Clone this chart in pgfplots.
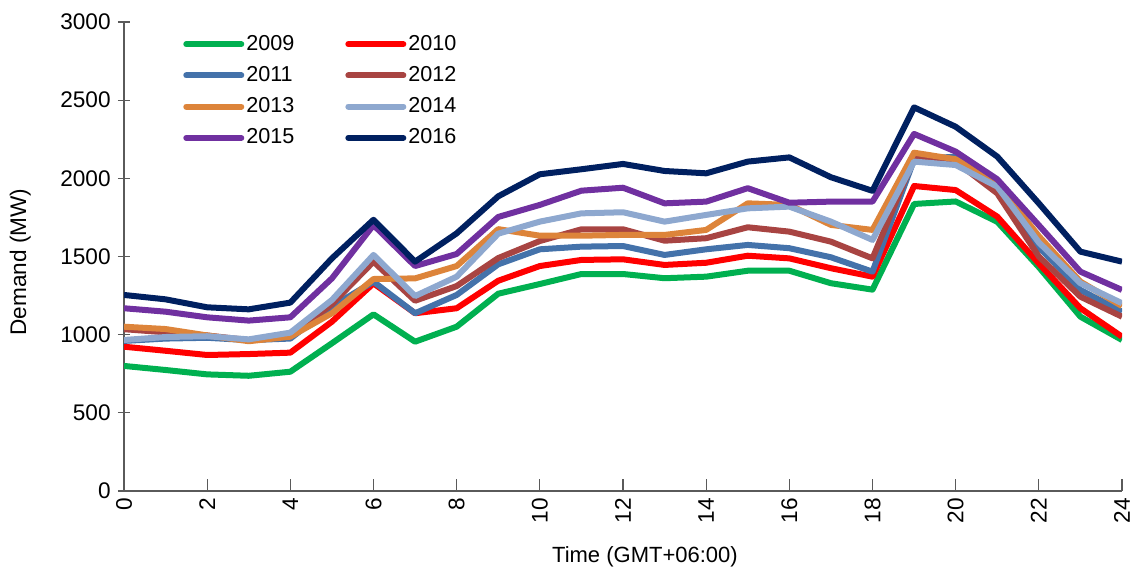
\documentclass[border=0pt]{standalone}
\usepackage{fontspec}
\setmainfont{Liberation Sans}
\usepackage{pgfplots}
\usepackage{pgfplotstable}
\pgfplotsset{compat=1.18}

\definecolor{c09}{HTML}{00B050}
\definecolor{c10}{HTML}{FF0000}
\definecolor{c11}{HTML}{4472AA}
\definecolor{c12}{HTML}{A84442}
\definecolor{c13}{HTML}{DD843A}
\definecolor{c14}{HTML}{8EA8CF}
\definecolor{c15}{HTML}{7030A0}
\definecolor{c16}{HTML}{002060}
\definecolor{axisgray}{HTML}{5A5A5A}

\pgfplotstableread{
h y09 y10 y11 y12 y13 y14 y15 y16
0 800 923 960 1035 1051 966 1169 1254
1 774 897 975 1015 1036 985 1147 1226
2 746 870 980 995 995 990 1111 1175
3 737 876 965 965 958 970 1090 1162
4 763 885 975 990 987 1013 1111 1205
5 945 1083 1180 1195 1137 1222 1360 1488
6 1130 1328 1339 1467 1356 1510 1701 1735
7 955 1137 1137 1217 1360 1247 1439 1467
8 1051 1169 1254 1311 1439 1371 1516 1648
9 1262 1345 1450 1490 1675 1646 1753 1885
10 1324 1439 1546 1599 1633 1723 1830 2026
11 1388 1478 1563 1674 1633 1776 1921 2058
12 1388 1482 1567 1674 1638 1783 1940 2092
13 1361 1446 1510 1601 1638 1723 1840 2047
14 1371 1460 1546 1617 1670 1766 1851 2032
15 1409 1505 1574 1687 1840 1808 1937 2107
16 1409 1488 1553 1659 1830 1819 1844 2134
17 1329 1425 1495 1595 1702 1723 1851 2007
18 1288 1371 1403 1488 1670 1606 1851 1920
19 1836 1951 2120 2128 2164 2107 2284 2454
20 1852 1925 2139 2107 2122 2085 2171 2330
21 1722 1755 1960 1904 1968 1947 1994 2139
22 1432 1455 1560 1500 1630 1590 1700 1840
23 1115 1169 1286 1243 1339 1329 1403 1531
24 966 987 1147 1115 1183 1201 1286 1467
}\demand

\begin{document}
\fontsize{10.5}{12.6}\selectfont
\begin{tikzpicture}
\begin{axis}[
  name=ax,
  scale only axis,
  width=499pt, height=234.5pt,
  xmin=0, xmax=24, ymin=0, ymax=3000,
  xtick={0,2,...,24},
  ytick={0,500,...,3000},
  axis lines=left,
  axis line style={-, draw=axisgray, line width=0.6pt},
  every tick/.style={draw=axisgray, line width=0.6pt},
  major tick length=6pt,
  xtick align=inside,
  ytick align=center,
  /pgf/number format/assume math mode=true,
  /pgf/number format/1000 sep={},
  tick label style={font=\fontsize{11.3}{13.5}\selectfont},
  xticklabel style={rotate=90, anchor=east},
  xlabel={Time (GMT+06:00)},
  ylabel={Demand (MW)},
  xlabel style={at={(axis description cs:0.522,-0.141)}, anchor=center, font=\fontsize{11}{13.2}\selectfont},
  ylabel style={at={(axis description cs:-0.104,0.488)}, anchor=center, font=\fontsize{11.3}{13.5}\selectfont},
  legend columns=2,
  legend style={draw=none, fill=none, at={(axis description cs:0.053,0.99)}, anchor=north west,
    font=\fontsize{10.8}{13}\selectfont, row sep=2.5pt,
    /tikz/every even column/.append style={column sep=24.5pt},
    nodes={inner xsep=1pt}},
  legend cell align=left,
  legend image code/.code={\draw[#1, line cap=round] (0pt,0pt) -- (27.5pt,0pt);},
  every axis plot/.append style={line width=3pt, line join=round},
]
\addplot[c09, no marks] table[x=h, y=y09] {\demand}; \addlegendentry{2009}
\addplot[c10, no marks] table[x=h, y=y10] {\demand}; \addlegendentry{2010}
\addplot[c11, no marks] table[x=h, y=y11] {\demand}; \addlegendentry{2011}
\addplot[c12, no marks] table[x=h, y=y12] {\demand}; \addlegendentry{2012}
\addplot[c13, no marks] table[x=h, y=y13] {\demand}; \addlegendentry{2013}
\addplot[c14, no marks] table[x=h, y=y14] {\demand}; \addlegendentry{2014}
\addplot[c15, no marks] table[x=h, y=y15] {\demand}; \addlegendentry{2015}
\addplot[c16, no marks] table[x=h, y=y16] {\demand}; \addlegendentry{2016}
\end{axis}
\pgfresetboundingbox
\path ([shift={(-62pt,-40.5pt)}]ax.south west) rectangle ([shift={(5.5pt,11pt)}]ax.north east);
\end{tikzpicture}
\end{document}
